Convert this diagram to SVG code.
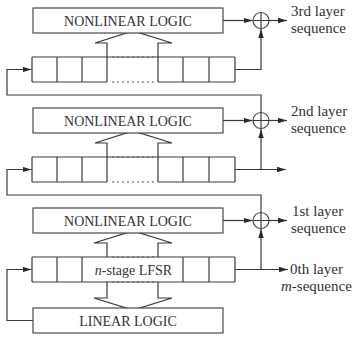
<svg xmlns="http://www.w3.org/2000/svg" width="354" height="337" viewBox="0 0 354 337">
  <defs>
    <style>
      .ln { fill: none; stroke: #3a3a3a; stroke-width: 1.2; }
      .box { fill: #fff; stroke: #4a4a4a; stroke-width: 1.2; }
      .dot { fill: none; stroke: #555; stroke-width: 1.1; stroke-dasharray: 2 3; }
      .hollow { fill: #fff; stroke: #3a3a3a; stroke-width: 1.2; stroke-linejoin: miter; }
      .arr { fill: none; stroke: #3a3a3a; stroke-width: 1.2; marker-end: url(#ah); }
    </style>
    <marker id="ah" viewBox="0 0 10 6" refX="10" refY="3" markerWidth="9" markerHeight="5.8" orient="auto" markerUnits="userSpaceOnUse">
      <path d="M0,0 L10,3 L0,6 z" fill="#2a2a2a"/>
    </marker>
  </defs>
  <rect width="354" height="337" fill="#fff"/>

  <!-- connectors -->
  <g id="connectors">
    <!-- hollow data-flow arrows between registers and logic blocks -->
    <polygon class="hollow" points="107,57 107,43 95,43 133,31 172,43 158,43 158,57"/>
    <polygon class="hollow" points="107,157 107,143 95,143 133,131 172,143 158,143 158,157"/>
    <polygon class="hollow" points="107,257 107,243 94,243 133,231 172,243 158,243 158,257"/>
    <polygon class="hollow" points="107,282 107,298 94,298 133,310 172,298 158,298 158,282"/>

    <!-- logic outputs into XOR -->
    <path class="arr" d="M223,20.5 H252.5"/>
    <path class="arr" d="M223,120.5 H252.5"/>
    <path class="arr" d="M223,220.5 H252.5"/>

    <!-- XOR outputs -->
    <path class="arr" d="M269,20.5 H287"/>
    <path class="arr" d="M269,120.5 H287"/>
    <path class="arr" d="M269,220.5 H287"/>

    <!-- register outputs -->
    <path class="arr" d="M235,69.5 H261 V29"/>
    <path class="arr" d="M235,169.5 H286"/>
    <path class="arr" d="M261,169.5 V129"/>
    <path class="arr" d="M235,269.5 H288"/>
    <path class="arr" d="M261,269.5 V229"/>

    <!-- feedback into register inputs -->
    <path class="arr" d="M261,112.5 V95 H7 V69.5 H31.5"/>
    <path class="arr" d="M261,212.5 V195 H7 V169.5 H31.5"/>
    <path class="arr" d="M33,320.5 H7 V269.5 H31.5"/>
  </g>

  <!-- layer 3 -->
  <g id="nl3">
    <rect class="box" x="33" y="8" width="190" height="25"/>
    <text x="128" y="25.5" font-family="Liberation Serif, Times New Roman, serif" font-size="14" fill="#333" text-anchor="middle">NONLINEAR LOGIC</text>
  </g>
  <g id="xor3">
    <circle class="box" cx="261" cy="20.5" r="8"/>
    <path class="ln" d="M253,20.5 H269 M261,12.5 V28.5"/>
  </g>
  <g id="reg3">
    <path class="ln" d="M32,57 H107 M158,57 H235 M32,82 H107 M158,82 H235 M32,57 V82 M57,57 V82 M82,57 V82 M107,57 V82 M158,57 V82 M183,57 V82 M209,57 V82 M235,57 V82"/>
    <path class="dot" d="M112,57 H156 M112,82 H156"/>
  </g>
  <g id="label3" font-family="Liberation Serif, Times New Roman, serif" font-size="15" fill="#333">
    <text x="291" y="16">3rd layer</text>
    <text x="291" y="33">sequence</text>
  </g>

  <!-- layer 2 -->
  <g id="nl2">
    <rect class="box" x="33" y="108" width="190" height="25"/>
    <text x="128" y="125.5" font-family="Liberation Serif, Times New Roman, serif" font-size="14" fill="#333" text-anchor="middle">NONLINEAR LOGIC</text>
  </g>
  <g id="xor2">
    <circle class="box" cx="261" cy="120.5" r="8"/>
    <path class="ln" d="M253,120.5 H269 M261,112.5 V128.5"/>
  </g>
  <g id="reg2">
    <path class="ln" d="M32,157 H107 M158,157 H235 M32,182 H107 M158,182 H235 M32,157 V182 M57,157 V182 M82,157 V182 M107,157 V182 M158,157 V182 M183,157 V182 M209,157 V182 M235,157 V182"/>
    <path class="dot" d="M112,157 H156 M112,182 H156"/>
  </g>
  <g id="label2" font-family="Liberation Serif, Times New Roman, serif" font-size="15" fill="#333">
    <text x="291" y="116">2nd layer</text>
    <text x="291" y="133">sequence</text>
  </g>

  <!-- layer 1 -->
  <g id="nl1">
    <rect class="box" x="33" y="208" width="190" height="25"/>
    <text x="128" y="225.5" font-family="Liberation Serif, Times New Roman, serif" font-size="14" fill="#333" text-anchor="middle">NONLINEAR LOGIC</text>
  </g>
  <g id="xor1">
    <circle class="box" cx="261" cy="220.5" r="8"/>
    <path class="ln" d="M253,220.5 H269 M261,212.5 V228.5"/>
  </g>
  <g id="label1" font-family="Liberation Serif, Times New Roman, serif" font-size="15" fill="#333">
    <text x="292" y="216">1st layer</text>
    <text x="291" y="233">sequence</text>
  </g>

  <!-- layer 0: n-stage LFSR -->
  <g id="lfsr">
    <path class="ln" d="M32,257 H107 M158,257 H235 M32,282 H107 M158,282 H235 M32,257 V282 M57,257 V282 M82,257 V282 M183,257 V282 M209,257 V282 M235,257 V282"/>
    <path class="dot" d="M112,257 H156 M112,282 H156"/>
    <text x="133.5" y="275" font-family="Liberation Serif, Times New Roman, serif" font-size="14" fill="#333" text-anchor="middle"><tspan font-style="italic">n</tspan>-stage LFSR</text>
  </g>
  <g id="label0" font-family="Liberation Serif, Times New Roman, serif" font-size="15" fill="#333">
    <text x="290" y="274">0th layer</text>
    <text x="281" y="291"><tspan font-style="italic">m</tspan>-sequence</text>
  </g>
  <g id="linear">
    <rect class="box" x="33" y="308" width="190" height="25"/>
    <text x="128" y="325.5" font-family="Liberation Serif, Times New Roman, serif" font-size="14" fill="#333" text-anchor="middle">LINEAR LOGIC</text>
  </g>
</svg>
